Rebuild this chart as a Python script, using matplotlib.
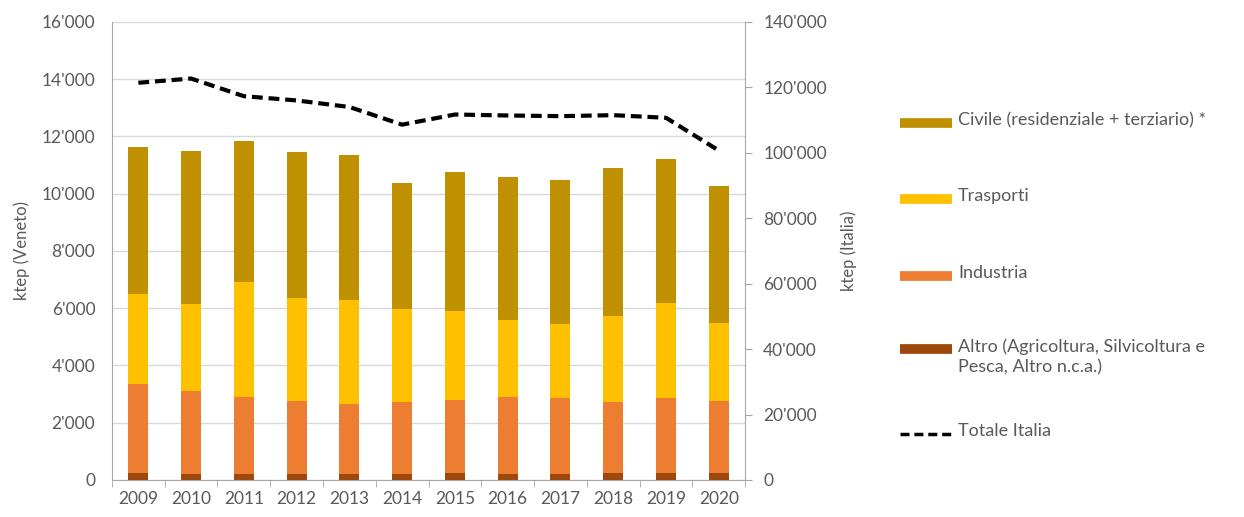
import matplotlib.pyplot as plt
from matplotlib.lines import Line2D
from matplotlib.ticker import FuncFormatter, MultipleLocator

plt.rcParams['font.family'] = ['Lato', 'DejaVu Sans']

anni = ['2009', '2010', '2011', '2012', '2013', '2014',
        '2015', '2016', '2017', '2018', '2019', '2020']

# ktep Veneto, per settore
altro = [250, 220, 220, 210, 210, 220, 230, 220, 220, 240, 240, 230]
industria = [3095, 2900, 2690, 2565, 2450, 2495, 2570, 2690, 2635, 2500, 2615, 2545]
trasporti = [3155, 3030, 3990, 3575, 3610, 3255, 3090, 2680, 2595, 2990, 3325, 2725]
civile = [5130, 5330, 4930, 5120, 5070, 4390, 4880, 4980, 5040, 5170, 5030, 4780]

# ktep Italia
totale_italia = [121400, 122700, 117300, 116000, 114000, 108600,
                 111700, 111400, 111200, 111500, 110700, 100700]

col_civile = '#BF9000'
col_trasporti = '#FFC000'
col_industria = '#ED7D31'
col_altro = '#9E480E'
grigio = '#595959'

fig = plt.figure(figsize=(12.44, 5.17), dpi=100)
ax = fig.add_axes([0.090, 0.0716, 0.509, 0.886])

x = range(len(anni))
w = 0.38
b1 = altro
b2 = [a + b for a, b in zip(b1, industria)]
b3 = [a + b for a, b in zip(b2, trasporti)]
ax.bar(x, altro, w, color=col_altro, zorder=3)
ax.bar(x, industria, w, bottom=b1, color=col_industria, zorder=3)
ax.bar(x, trasporti, w, bottom=b2, color=col_trasporti, zorder=3)
ax.bar(x, civile, w, bottom=b3, color=col_civile, zorder=3)

fmt = FuncFormatter(lambda v, p: f"{int(v):,}".replace(',', "'"))

ax.set_xlim(-0.5, len(anni) - 0.5)
ax.set_ylim(0, 16000)
ax.yaxis.set_major_locator(MultipleLocator(2000))
ax.yaxis.set_major_formatter(fmt)
ax.set_xticks(list(x))
ax.set_xticklabels(anni, fontsize=12.5, color=grigio)
ax.tick_params(axis='x', length=0, pad=8)
ax.set_xticks([i + 0.5 for i in range(-1, len(anni))], minor=True)
ax.tick_params(axis='x', which='minor', length=5, color='#a6a6a6', direction='out')
ax.tick_params(axis='y', length=0, labelsize=12.5, labelcolor=grigio, pad=12)
ax.grid(axis='y', color='#d9d9d9', lw=1, zorder=0)
ax.set_ylabel('ktep (Veneto)', fontsize=12, color=grigio, labelpad=8)

ax.spines['top'].set_visible(False)
ax.spines['left'].set_color('#a6a6a6')
ax.spines['bottom'].set_color('#a6a6a6')
ax.spines['right'].set_visible(False)

ax2 = ax.twinx()
ax2.plot(list(x), totale_italia, color='black', lw=3, ls=(0, (2.6, 1.4)), zorder=4)
ax2.set_ylim(0, 140000)
ax2.yaxis.set_major_locator(MultipleLocator(20000))
ax2.yaxis.set_major_formatter(fmt)
ax2.tick_params(axis='y', length=5, color='#a6a6a6', direction='out',
                labelsize=12.5, labelcolor=grigio, pad=8)
ax2.set_ylabel('ktep (Italia)', fontsize=12, color=grigio, labelpad=10)
for s in ['top', 'left', 'bottom']:
    ax2.spines[s].set_visible(False)
ax2.spines['right'].set_color('#a6a6a6')

# legenda manuale
H = 517.0
W = 1244.0
voci = [
    (123, col_civile, 'Civile (residenziale + terziario) *', '-'),
    (199, col_trasporti, 'Trasporti', '-'),
    (276, col_industria, 'Industria', '-'),
    (349, col_altro, 'Altro (Agricoltura, Silvicoltura e\nPesca, Altro n.c.a.)', '-'),
    (434, 'black', 'Totale Italia', '--'),
]
for yp, c, testo, stile in voci:
    yf = 1 - yp / H
    if stile == '-':
        fig.add_artist(Line2D([900 / W, 952 / W], [yf, yf], color=c, lw=7,
                              solid_capstyle='butt', transform=fig.transFigure))
    else:
        fig.add_artist(Line2D([900 / W, 952 / W], [yf, yf], color=c, lw=2.5,
                              ls=(0, (2.6, 1.4)), transform=fig.transFigure))
    fig.text(958 / W, yf + 11 / H, testo, fontsize=13, color=grigio,
             va='top', ha='left', linespacing=1.35)

fig.savefig('out.png', dpi=100)
